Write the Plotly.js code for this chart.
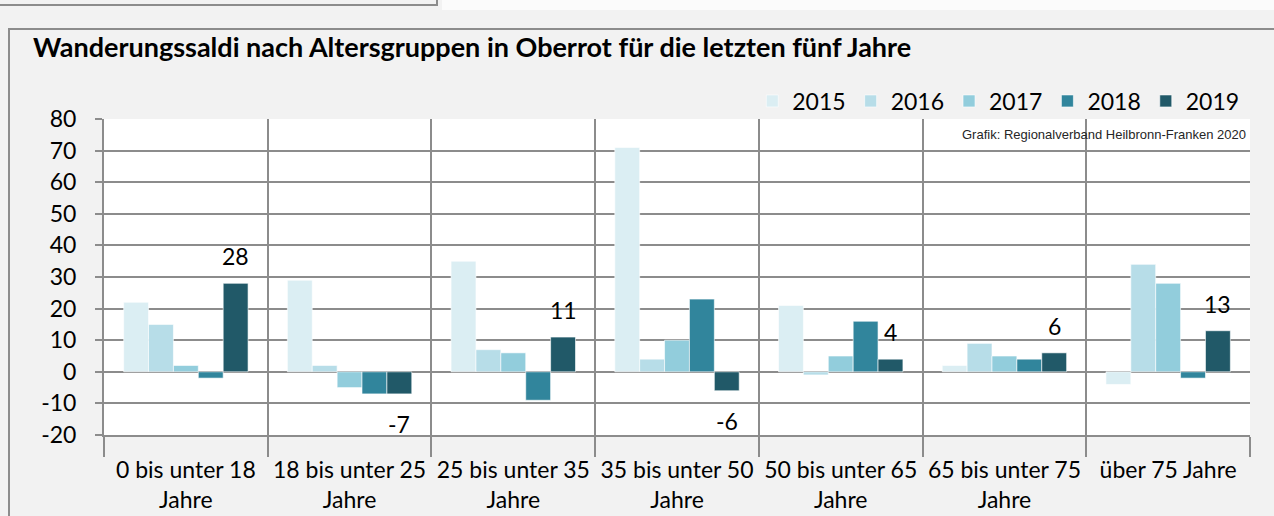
<!DOCTYPE html>
<html>
<head>
<meta charset="utf-8">
<script src="https://cdn.plot.ly/plotly-3.0.1.min.js"></script>
<style>
  html, body { margin: 0; padding: 0; background: #f2f2f2; }
  #wrap { position: relative; width: 1274px; height: 516px; overflow: hidden; }
  #chart { width: 1274px; height: 516px; }
  #frame { position: absolute; left: 8px; top: 28px; width: 1300px; height: 600px;
           border: 2px solid #8c8c8c; box-sizing: border-box; pointer-events: none; }
  #topbox { position: absolute; left: -2px; top: -4px; width: 440px; height: 10px;
            border: 2px solid #8c8c8c; box-sizing: border-box; pointer-events: none; }
  #topwhite { position: absolute; left: 442px; top: 0; width: 840px; height: 10px; background: #fbfbfb; }
</style>
</head>
<body>
<div id="wrap">
  <div id="chart"></div>
  <div id="frame"></div>
  <div id="topwhite"></div>
  <div id="topbox"></div>
</div>
<script>
const categories = [
  "0 bis unter 18<br>Jahre",
  "18 bis unter 25<br>Jahre",
  "25 bis unter 35<br>Jahre",
  "35 bis unter 50<br>Jahre",
  "50 bis unter 65<br>Jahre",
  "65 bis unter 75<br>Jahre",
  "über 75 Jahre"
];
const years = ["2015", "2016", "2017", "2018", "2019"];
const v2015 = [22, 29, 35, 71, 21, 2, -4];
const v2016 = [15, 2, 7, 4, -1, 9, 34];
const v2017 = [2, -5, 6, 10, 5, 5, 28];
const v2018 = [-2, -7, -9, 23, 16, 4, -2];
const v2019 = [28, -7, 11, -6, 4, 6, 13];
const yTicks = [-20, -10, 0, 10, 20, 30, 40, 50, 60, 70, 80];

const colors = ["#dbeef3", "#b7dde8", "#92cddc", "#31859c", "#215968"];
const series = [v2015, v2016, v2017, v2018, v2019];

const font = "Lato, 'Open Sans', sans-serif";

const W = 1274, H = 516;
const M = { l: 104, r: 24, t: 119, b: 81 };
const BARGAP = 0.24;

const traces = series.map((vals, i) => ({
  type: "bar",
  name: years[i],
  x: categories,
  y: vals,
  marker: { color: colors[i], line: { color: "rgba(255,255,255,0.6)", width: 1 } },
  hoverinfo: "x+y+name"
}));

// data labels for the last series, placed relative to its bars
const catPx = (W - M.l - M.r) / categories.length;
const barFrac = (1 - BARGAP) / series.length;
const lastBarShift = ((series.length - 1) / 2) * barFrac * catPx;

const labelAnns = v2019.map((v, j) => ({
  x: categories[j],
  y: v,
  xref: "x", yref: "y",
  text: String(v),
  showarrow: false,
  xanchor: "center", yanchor: "middle",
  xshift: lastBarShift,
  yshift: v >= 0 ? 27 : -30,
  font: { family: font, size: 23, color: "#000000" }
}));

const layout = {
  width: W,
  height: H,
  paper_bgcolor: "#f2f2f2",
  plot_bgcolor: "#ffffff",
  margin: M,
  barmode: "group",
  bargap: BARGAP,
  bargroupgap: 0,
  showlegend: true,
  title: {
    text: "<b>Wanderungssaldi nach Altersgruppen in Oberrot für die letzten fünf Jahre</b>",
    font: { family: font, size: 27, color: "#000000" },
    x: 33 / W, xanchor: "left", xref: "container",
    y: 1 - 48 / H, yanchor: "middle", yref: "container"
  },
  legend: {
    orientation: "h",
    x: 0.995, xanchor: "right",
    y: 1.057, yanchor: "middle",
    font: { family: font, size: 23, color: "#000000" },
    bgcolor: "rgba(0,0,0,0)",
    itemwidth: 30,
    traceorder: "normal"
  },
  xaxis: {
    type: "category",
    tickson: "boundaries",
    ticks: "outside",
    ticklen: 20,
    tickwidth: 2,
    tickcolor: "#8c8c8c",
    ticklabelstandoff: 13,
    showgrid: true,
    gridcolor: "#8c8c8c",
    gridwidth: 2,
    showline: true,
    linecolor: "#8c8c8c",
    linewidth: 2,
    tickfont: { family: font, size: 23, color: "#000000" },
    fixedrange: true
  },
  yaxis: {
    range: [-20, 80],
    tickvals: yTicks,
    ticktext: yTicks.map(String),
    ticks: "outside",
    ticklen: 7,
    tickwidth: 2,
    tickcolor: "#8c8c8c",
    ticklabelstandoff: 14,
    showgrid: true,
    gridcolor: "#8c8c8c",
    gridwidth: 2,
    zeroline: true,
    zerolinecolor: "#8c8c8c",
    zerolinewidth: 2,
    showline: true,
    linecolor: "#8c8c8c",
    linewidth: 2,
    tickfont: { family: font, size: 23, color: "#000000" },
    fixedrange: true
  },
  annotations: [{
    text: "Grafik: Regionalverband Heilbronn-Franken 2020",
    xref: "paper", yref: "paper",
    x: 0.998, y: 0.95,
    xanchor: "right", yanchor: "middle",
    showarrow: false,
    font: { family: "'Liberation Sans', Arial, sans-serif", size: 13, color: "#262626" }
  }].concat(labelAnns)
};

Plotly.newPlot("chart", traces, layout, { displayModeBar: false, staticPlot: true });
</script>
</body>
</html>
